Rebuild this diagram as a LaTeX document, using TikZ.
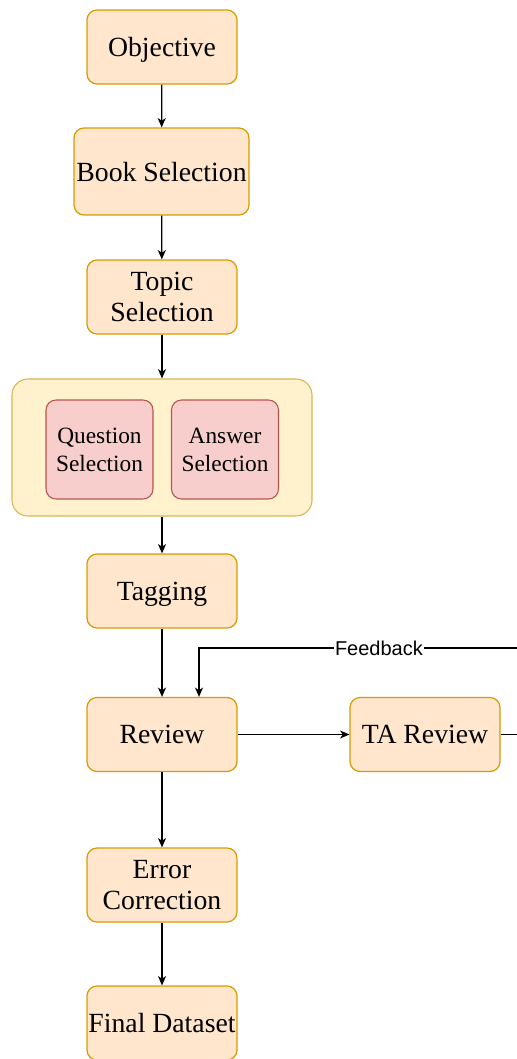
\documentclass[tikz,border=0pt]{standalone}
\usepackage{fontspec}
\setmainfont{Liberation Serif}
\setsansfont{Liberation Sans}
\usetikzlibrary{arrows.meta}
\definecolor{stagefill}{HTML}{FFE6CC}
\definecolor{stagedraw}{HTML}{D79B00}
\definecolor{groupfill}{HTML}{FFF2CC}
\definecolor{groupdraw}{HTML}{D6B656}
\definecolor{pickfill}{HTML}{F8CECC}
\definecolor{pickdraw}{HTML}{B85450}
\tikzset{
	stage/.style={
			draw=stagedraw, fill=stagefill, rounded corners=7.5pt, line width=0.9pt,
			minimum width=112.5pt, minimum height=55.5pt, align=center,
			font=\fontsize{20.8}{23.5}\selectfont, inner sep=1pt, text depth=0pt
		},
	pick/.style={
			draw=pickdraw, fill=pickfill, rounded corners=7.5pt, line width=0.8pt,
			minimum width=80.25pt, minimum height=74.25pt, align=center,
			font=\fontsize{17.5}{21}\selectfont, inner sep=1pt, text depth=0pt
		},
	flow/.style={->, line width=0.9pt}
}

\begin{document}
\begin{tikzpicture}[x=0.75pt, y=-0.75pt, >={Stealth[length=7pt,width=6pt,inset=2pt]}]
			\useasboundingbox (0,0) rectangle (517,1059);

			% main column
			\node[stage] (objective) at (162,47) {Objective};
			\node[stage, minimum width=131.25pt, minimum height=65.25pt] (book) at (161.5,171.5) {Book Selection};
			\node[stage] (topic) at (162,297) {Topic\\Selection};

			% selection group
			\node[draw=groupdraw, fill=groupfill, rounded corners=12pt, line width=0.8pt,
				minimum width=225pt, minimum height=102.75pt] (group) at (162,447.5) {};
			\node[pick] (question) at (99.5,449.5) {Question\\Selection};
			\node[pick] (answer) at (225,449.5) {Answer\\Selection};

			\node[stage] (tagging) at (162,591) {Tagging};
			\node[stage] (review) at (162,734.5) {Review};
			\node[stage] (ta) at (425,734.5) {TA Review};
			\node[stage] (error) at (162,885) {Error\\Correction};
			\node[stage] (final) at (162,1023) {Final Dataset};

			% arrows
			\draw[flow] (objective) -- (book);
			\draw[flow] (book) -- (topic);
			\draw[flow] (topic) -- (group);
			\draw[flow] (group) -- (tagging);
			\draw[flow] (tagging) -- (review);
			\draw[flow] (review) -- (ta);
			\draw[flow] (review) -- (error);
			\draw[flow] (error) -- (final);

			% feedback loop
			\coordinate (loop) at (545,648);
			\draw[flow] (ta.east) -| (loop) -| node[pos=0.24, fill=white, inner sep=1pt,
					font=\sffamily\fontsize{15}{16}\selectfont] {Feedback} ([xshift=27.75pt]review.north);
		\end{tikzpicture}
\end{document}
